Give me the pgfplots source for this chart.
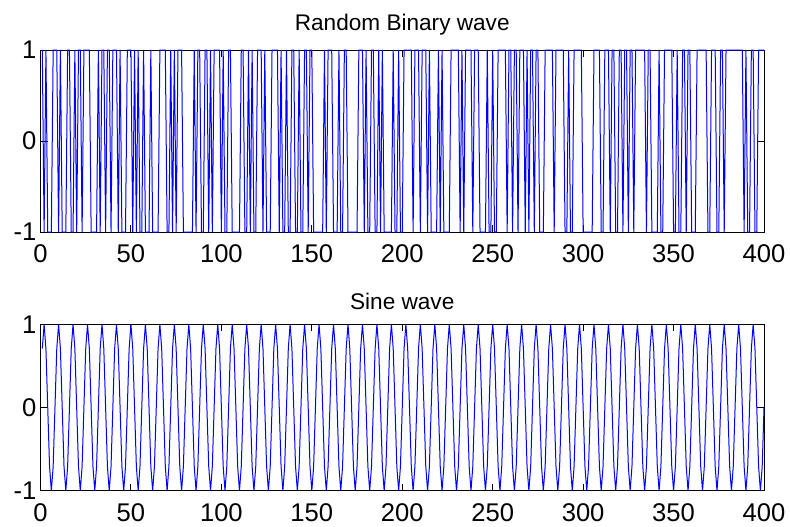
\documentclass[border=0pt]{standalone}
\usepackage{fontspec}
\setmainfont{Liberation Sans}
\usepackage{pgfplots}
\pgfplotsset{compat=1.18}

\pgfplotsset{
  mlab/.style={
    scale only axis,
    width=361.75pt,
    xmin=0, xmax=400, ymin=-1, ymax=1,
    xtick={0,50,...,400}, ytick={-1,0,1},
    tick align=inside,
    xtick pos=both, ytick pos=both,
    major tick length=3.5pt,
    axis line style={line width=0.5pt},
    every tick/.style={black, line width=0.5pt},
    tick label style={font=\fontsize{12.8}{15}\selectfont},
    xticklabel style={yshift=-3pt},
    yticklabel style={xshift=1.5pt},
    title style={font=\fontsize{11.3}{13}\selectfont, anchor=base, at={(0.5,1)}},
    /pgf/number format/assume math mode=true,
    clip=false,
  },
}

\begin{document}
\begin{tikzpicture}
\useasboundingbox (0,0) rectangle (395pt,263pt);

% top: random binary wave
\begin{axis}[mlab, height=91pt, at={(20.25pt,238pt)}, anchor=north west,
  title={Random Binary wave}, title style={yshift=4pt}]
\addplot[blue, line width=0.5pt] coordinates {
(1,1)(2,-1)(3,1)(4,-1)(6,-1)(7,1)(9,1)(10,-1)(11,1)(12,-1)(14,-1)(15,1)(16,1)(17,-1)(18,-1)(19,1)(20,-1)(21,1)(22,1)(23,-1)(24,1)(27,1)(28,-1)(31,-1)(32,1)(33,-1)(34,1)(35,1)(36,-1)(37,1)(38,1)(39,-1)(40,1)(42,1)(43,-1)(44,1)(45,-1)(47,-1)(48,1)(50,1)
(51,-1)(52,1)(53,-1)(54,1)(55,-1)(56,-1)(57,1)(58,-1)(60,-1)(61,1)(62,-1)(65,-1)(66,1)(69,1)(70,-1)(71,-1)(72,1)(73,-1)(74,1)(75,-1)(76,1)(78,1)(79,-1)(84,-1)(85,1)(86,-1)(87,1)(88,1)(89,-1)(90,-1)(91,1)(92,1)(93,-1)(94,1)(95,-1)(96,1)(99,1)(100,-1)
(101,1)(102,-1)(103,-1)(104,1)(105,1)(106,-1)(110,-1)(111,1)(112,1)(113,-1)(114,-1)(115,1)(116,-1)(117,1)(118,-1)(119,-1)(120,1)(122,1)(123,-1)(124,1)(125,-1)(127,-1)(128,1)(131,1)(132,-1)(133,1)(134,-1)(135,-1)(136,1)(137,-1)(138,-1)(139,1)(140,1)(141,-1)(142,-1)(143,1)(144,-1)(145,-1)(146,1)(147,1)(148,-1)(149,1)(150,1)
(151,-1)(156,-1)(157,1)(158,-1)(159,1)(161,1)(162,-1)(164,-1)(165,1)(166,-1)(167,-1)(168,1)(169,1)(170,-1)(175,-1)(176,1)(178,1)(179,-1)(180,1)(181,-1)(182,-1)(183,1)(184,1)(185,-1)(186,-1)(187,1)(188,-1)(189,1)(190,-1)(194,-1)(195,1)(196,-1)(197,-1)(198,1)(199,-1)(200,-1)
(201,1)(205,1)(206,-1)(207,1)(209,1)(210,-1)(211,1)(213,1)(214,-1)(215,1)(216,-1)(219,-1)(220,1)(221,-1)(222,1)(223,-1)(226,-1)(227,1)(231,1)(232,-1)(233,1)(234,-1)(235,1)(238,1)(239,-1)(240,1)(242,1)(243,-1)(246,-1)(247,1)(248,-1)(249,-1)(250,1)
(251,-1)(252,-1)(253,1)(257,1)(258,-1)(259,1)(260,1)(261,-1)(262,1)(263,1)(264,-1)(265,1)(267,1)(268,-1)(269,1)(270,-1)(271,1)(272,1)(273,-1)(274,1)(275,1)(276,-1)(278,-1)(279,1)(283,1)(284,-1)(285,1)(289,1)(290,-1)(291,-1)(292,1)(293,-1)(294,-1)(295,1)(299,1)(300,-1)
(305,-1)(306,1)(309,1)(310,-1)(311,-1)(312,1)(314,1)(315,-1)(316,1)(317,1)(318,-1)(319,-1)(320,1)(321,1)(322,-1)(323,1)(324,1)(325,-1)(326,1)(327,1)(328,-1)(329,1)(334,1)(335,-1)(336,1)(337,1)(338,-1)(341,-1)(342,1)(343,-1)(344,-1)(345,1)(349,1)(350,-1)
(351,-1)(352,1)(353,-1)(354,-1)(355,1)(356,1)(357,-1)(358,1)(359,1)(360,-1)(362,-1)(363,1)(368,1)(369,-1)(370,-1)(371,1)(373,1)(374,-1)(375,-1)(376,1)(377,1)(378,-1)(379,1)(388,1)(389,-1)(390,1)(391,-1)(392,-1)(393,1)(394,1)(395,-1)(396,-1)(397,1)(400,1)
};
\end{axis}

% bottom: sine wave, 8 samples per period
\begin{axis}[mlab, height=83.25pt, at={(20.25pt,100.85pt)}, anchor=north west,
  title={Sine wave}, title style={yshift=1.5pt}]
\addplot[blue, line width=0.5pt] table[row sep=\\, x expr=\coordindex+1, y index=0] {
y\\
0.7071\\ 1\\ 0.7071\\ 0\\ -0.7071\\ -1\\ -0.7071\\ 0\\
0.7071\\ 1\\ 0.7071\\ 0\\ -0.7071\\ -1\\ -0.7071\\ 0\\
0.7071\\ 1\\ 0.7071\\ 0\\ -0.7071\\ -1\\ -0.7071\\ 0\\
0.7071\\ 1\\ 0.7071\\ 0\\ -0.7071\\ -1\\ -0.7071\\ 0\\
0.7071\\ 1\\ 0.7071\\ 0\\ -0.7071\\ -1\\ -0.7071\\ 0\\
0.7071\\ 1\\ 0.7071\\ 0\\ -0.7071\\ -1\\ -0.7071\\ 0\\
0.7071\\ 1\\ 0.7071\\ 0\\ -0.7071\\ -1\\ -0.7071\\ 0\\
0.7071\\ 1\\ 0.7071\\ 0\\ -0.7071\\ -1\\ -0.7071\\ 0\\
0.7071\\ 1\\ 0.7071\\ 0\\ -0.7071\\ -1\\ -0.7071\\ 0\\
0.7071\\ 1\\ 0.7071\\ 0\\ -0.7071\\ -1\\ -0.7071\\ 0\\
0.7071\\ 1\\ 0.7071\\ 0\\ -0.7071\\ -1\\ -0.7071\\ 0\\
0.7071\\ 1\\ 0.7071\\ 0\\ -0.7071\\ -1\\ -0.7071\\ 0\\
0.7071\\ 1\\ 0.7071\\ 0\\ -0.7071\\ -1\\ -0.7071\\ 0\\
0.7071\\ 1\\ 0.7071\\ 0\\ -0.7071\\ -1\\ -0.7071\\ 0\\
0.7071\\ 1\\ 0.7071\\ 0\\ -0.7071\\ -1\\ -0.7071\\ 0\\
0.7071\\ 1\\ 0.7071\\ 0\\ -0.7071\\ -1\\ -0.7071\\ 0\\
0.7071\\ 1\\ 0.7071\\ 0\\ -0.7071\\ -1\\ -0.7071\\ 0\\
0.7071\\ 1\\ 0.7071\\ 0\\ -0.7071\\ -1\\ -0.7071\\ 0\\
0.7071\\ 1\\ 0.7071\\ 0\\ -0.7071\\ -1\\ -0.7071\\ 0\\
0.7071\\ 1\\ 0.7071\\ 0\\ -0.7071\\ -1\\ -0.7071\\ 0\\
0.7071\\ 1\\ 0.7071\\ 0\\ -0.7071\\ -1\\ -0.7071\\ 0\\
0.7071\\ 1\\ 0.7071\\ 0\\ -0.7071\\ -1\\ -0.7071\\ 0\\
0.7071\\ 1\\ 0.7071\\ 0\\ -0.7071\\ -1\\ -0.7071\\ 0\\
0.7071\\ 1\\ 0.7071\\ 0\\ -0.7071\\ -1\\ -0.7071\\ 0\\
0.7071\\ 1\\ 0.7071\\ 0\\ -0.7071\\ -1\\ -0.7071\\ 0\\
0.7071\\ 1\\ 0.7071\\ 0\\ -0.7071\\ -1\\ -0.7071\\ 0\\
0.7071\\ 1\\ 0.7071\\ 0\\ -0.7071\\ -1\\ -0.7071\\ 0\\
0.7071\\ 1\\ 0.7071\\ 0\\ -0.7071\\ -1\\ -0.7071\\ 0\\
0.7071\\ 1\\ 0.7071\\ 0\\ -0.7071\\ -1\\ -0.7071\\ 0\\
0.7071\\ 1\\ 0.7071\\ 0\\ -0.7071\\ -1\\ -0.7071\\ 0\\
0.7071\\ 1\\ 0.7071\\ 0\\ -0.7071\\ -1\\ -0.7071\\ 0\\
0.7071\\ 1\\ 0.7071\\ 0\\ -0.7071\\ -1\\ -0.7071\\ 0\\
0.7071\\ 1\\ 0.7071\\ 0\\ -0.7071\\ -1\\ -0.7071\\ 0\\
0.7071\\ 1\\ 0.7071\\ 0\\ -0.7071\\ -1\\ -0.7071\\ 0\\
0.7071\\ 1\\ 0.7071\\ 0\\ -0.7071\\ -1\\ -0.7071\\ 0\\
0.7071\\ 1\\ 0.7071\\ 0\\ -0.7071\\ -1\\ -0.7071\\ 0\\
0.7071\\ 1\\ 0.7071\\ 0\\ -0.7071\\ -1\\ -0.7071\\ 0\\
0.7071\\ 1\\ 0.7071\\ 0\\ -0.7071\\ -1\\ -0.7071\\ 0\\
0.7071\\ 1\\ 0.7071\\ 0\\ -0.7071\\ -1\\ -0.7071\\ 0\\
0.7071\\ 1\\ 0.7071\\ 0\\ -0.7071\\ -1\\ -0.7071\\ 0\\
0.7071\\ 1\\ 0.7071\\ 0\\ -0.7071\\ -1\\ -0.7071\\ 0\\
0.7071\\ 1\\ 0.7071\\ 0\\ -0.7071\\ -1\\ -0.7071\\ 0\\
0.7071\\ 1\\ 0.7071\\ 0\\ -0.7071\\ -1\\ -0.7071\\ 0\\
0.7071\\ 1\\ 0.7071\\ 0\\ -0.7071\\ -1\\ -0.7071\\ 0\\
0.7071\\ 1\\ 0.7071\\ 0\\ -0.7071\\ -1\\ -0.7071\\ 0\\
0.7071\\ 1\\ 0.7071\\ 0\\ -0.7071\\ -1\\ -0.7071\\ 0\\
0.7071\\ 1\\ 0.7071\\ 0\\ -0.7071\\ -1\\ -0.7071\\ 0\\
0.7071\\ 1\\ 0.7071\\ 0\\ -0.7071\\ -1\\ -0.7071\\ 0\\
0.7071\\ 1\\ 0.7071\\ 0\\ -0.7071\\ -1\\ -0.7071\\ 0\\
0.7071\\ 1\\ 0.7071\\ 0\\ -0.7071\\ -1\\ -0.7071\\ 0\\
};
\end{axis}
\end{tikzpicture}
\end{document}
